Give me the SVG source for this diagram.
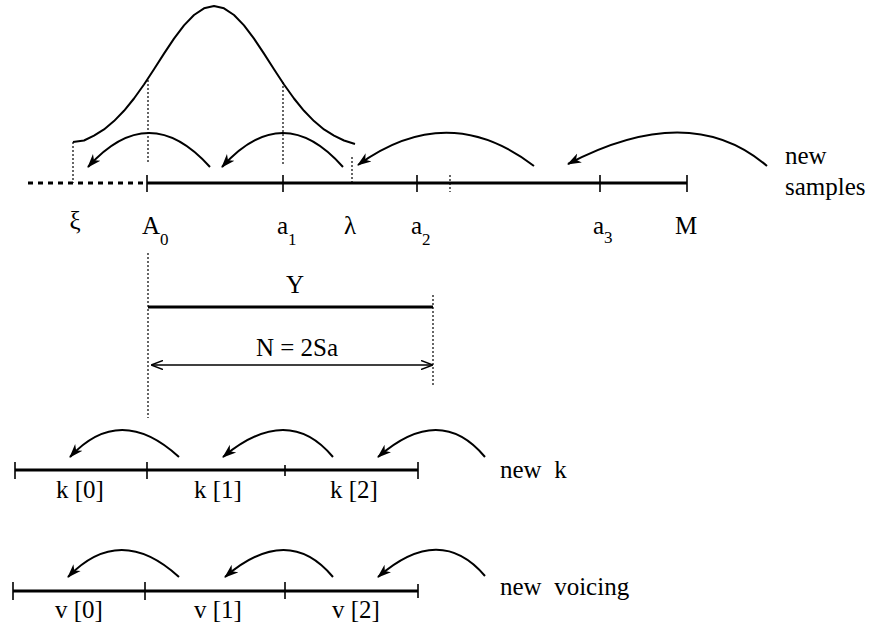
<svg xmlns="http://www.w3.org/2000/svg" width="874" height="636" viewBox="0 0 874 636">
<style>
text{font-family:'Liberation Serif','Times New Roman','DejaVu Serif',serif;font-size:25px;fill:#000}
.s{font-size:17px}
.ax{stroke:#000;stroke-width:3.2;fill:none}
.tk{stroke:#000;stroke-width:1.6;fill:none}
.dt{stroke:#000;stroke-width:1.2;stroke-dasharray:2 2;fill:none}
.arc{stroke:#000;stroke-width:2;fill:none;marker-end:url(#ah)}
.g{stroke:#000;stroke-width:2;fill:none;stroke-linejoin:round}
</style>
<defs>
<marker id="ah" markerUnits="userSpaceOnUse" markerWidth="14" markerHeight="12" refX="13" refY="5" orient="auto" viewBox="0 0 14 10">
<path d="M0,0 L14,5 L0,10 L4,5 z" fill="#000"/>
</marker>
<marker id="ah2" markerUnits="userSpaceOnUse" markerWidth="12" markerHeight="10" refX="11" refY="4.5" orient="auto-start-reverse" viewBox="0 0 12 9">
<path d="M0,0 L12,4.5 L0,9" fill="none" stroke="#000" stroke-width="1.5"/>
</marker>
</defs>

<g id="gaussian">
<path class="g" d="M73,142 L84,140.5 L94,135.7 L104,129.4 L114,121.1 L124,110.8 L134,98.5 L144,84.5 L154,69.2 L164,53.6 L174,38.6 L184,25.4 L194,15 L204,8.3 L214,6 L224,8.3 L234,15 L244,25.4 L254,38.6 L264,53.6 L274,69.2 L284,84.5 L294,98.5 L304,110.8 L314,121.1 L324,129.4 L334,135.7 L344,140.5 L355,144"/>
</g>

<g id="sample-axis">
<line x1="28" y1="183" x2="147" y2="183" stroke="#000" stroke-width="3" stroke-dasharray="5 5"/>
<line class="ax" x1="147" y1="183" x2="687" y2="183"/>
<line class="tk" x1="147" y1="175" x2="147" y2="192"/>
<line class="tk" x1="283" y1="175" x2="283" y2="192"/>
<line class="tk" x1="417" y1="175" x2="417" y2="192"/>
<line class="dt" x1="450" y1="175" x2="450" y2="192"/>
<line class="tk" x1="600" y1="175" x2="600" y2="192"/>
<line class="tk" x1="687" y1="175" x2="687" y2="192"/>
<line class="dt" x1="73" y1="142" x2="73" y2="183"/>
<line class="dt" x1="148" y1="80" x2="148" y2="163"/>
<line class="dt" x1="283" y1="82" x2="283" y2="165"/>
<line class="dt" x1="352" y1="157" x2="352" y2="183"/>
</g>

<g id="sample-labels">
<text x="75" y="229" text-anchor="middle">ξ</text>
<text x="142" y="234">A<tspan class="s" dy="11">0</tspan></text>
<text x="277" y="234">a<tspan class="s" dy="11">1</tspan></text>
<text x="350" y="234" text-anchor="middle">λ</text>
<text x="411" y="234">a<tspan class="s" dy="11">2</tspan></text>
<text x="593" y="234">a<tspan class="s" dy="9">3</tspan></text>
<text x="686" y="234" text-anchor="middle">M</text>
<text x="785" y="164">new</text>
<text x="785" y="195">samples</text>
</g>

<g id="window">
<line class="dt" x1="148" y1="253" x2="148" y2="418"/>
<line class="dt" x1="433" y1="295" x2="433" y2="385"/>
<line class="ax" x1="148" y1="307" x2="433" y2="307"/>
<text x="295" y="293" text-anchor="middle">Y</text>
<text x="297" y="356" text-anchor="middle">N = 2Sa</text>
</g>

<g id="k-axis">
<line class="ax" x1="15" y1="470" x2="418" y2="470"/>
<line class="tk" x1="15" y1="462" x2="15" y2="479"/>
<line class="tk" x1="147" y1="462" x2="147" y2="479"/>
<line class="tk" x1="285" y1="465" x2="285" y2="476"/>
<line class="tk" x1="418" y1="462" x2="418" y2="479"/>
<text x="80" y="498" text-anchor="middle">k [0]</text>
<text x="218" y="498" text-anchor="middle">k [1]</text>
<text x="354" y="498" text-anchor="middle">k [2]</text>
<text x="500" y="478" xml:space="preserve">new  k</text>
</g>

<g id="v-axis">
<line class="ax" x1="13" y1="591" x2="418" y2="591"/>
<line class="tk" x1="13" y1="582" x2="13" y2="600"/>
<line class="tk" x1="145" y1="582" x2="145" y2="600"/>
<line class="tk" x1="285" y1="582" x2="285" y2="599"/>
<line class="tk" x1="418" y1="584" x2="418" y2="598"/>
<text x="79" y="618" text-anchor="middle">v [0]</text>
<text x="218" y="618" text-anchor="middle">v [1]</text>
<text x="356" y="618" text-anchor="middle">v [2]</text>
<text x="500" y="595" xml:space="preserve">new  voicing</text>
</g>

<g id="connectors">
<path class="arc" d="M210,167 Q149,99 88,167"/>
<path class="arc" d="M343,167 Q283,99 222,167"/>
<path class="arc" d="M534,166 Q448,100 358,165"/>
<path class="arc" d="M767,166 Q690,100 568,164"/>
<path class="arc" d="M179,457 Q120,403 70,457"/>
<path class="arc" d="M333,457 Q288,403 223,457"/>
<path class="arc" d="M485,457 Q440,403 378,457"/>
<path class="arc" d="M179,577 Q120,523 68,577"/>
<path class="arc" d="M333,577 Q288,523 225,577"/>
<path class="arc" d="M485,576 Q440,523 378,577"/>
<line x1="152" y1="365" x2="432" y2="365" stroke="#000" stroke-width="1.5" marker-start="url(#ah2)" marker-end="url(#ah2)"/>
</g>
</svg>
